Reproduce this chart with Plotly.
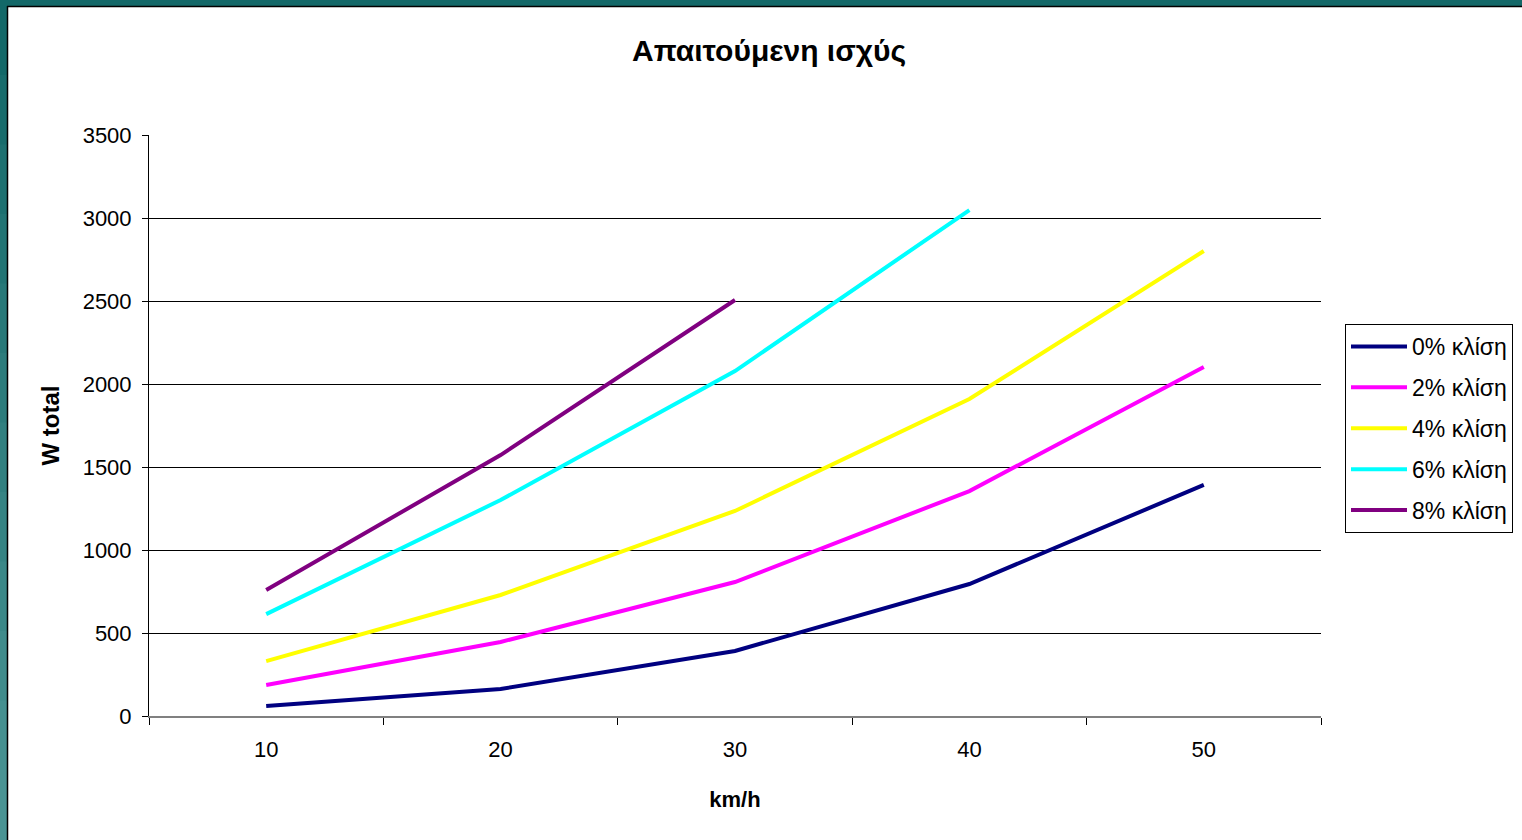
import plotly.graph_objects as go

speeds = ["10", "20", "30", "40", "50"]
series_names = ["0% κλίση", "2% κλίση", "4% κλίση", "6% κλίση", "8% κλίση"]
w0 = [60, 163, 392, 795, 1392]
w2 = [187, 446, 807, 1355, 2102]
w4 = [331, 729, 1235, 1910, 2801]
w6 = [614, 1301, 2078, 3048]
w8 = [759, 1572, 2506]
colors = ["#000080", "#FF00FF", "#FFFF00", "#00FFFF", "#800080"]

W, H = 1522, 840
L, R, T, B = 149, 1321, 135, 716

fig = go.Figure()
for i, (name, vals, c) in enumerate(zip(series_names, [w0, w2, w4, w6, w8], colors)):
    fig.add_trace(go.Scatter(x=speeds[:len(vals)], y=vals, name=name, mode="lines", legendgroup=f"g{i}",
                             line=dict(color=c, width=4)))

def px(x):
    return (x - L) / (R - L)

def py(y):
    return (B - y) / (B - T)

shapes = []
shapes.append(dict(type="rect", xref="paper", yref="paper", x0=px(0), x1=px(W), y0=py(0), y1=py(6),
                   fillcolor="#136868", line=dict(width=0), layer="above"))
n = 12
for i in range(n):
    t = i / (n - 1)
    r = int(0x13 + (0x4a - 0x13) * t)
    g = int(0x68 + (0x94 - 0x68) * t)
    b = int(0x68 + (0x94 - 0x68) * t)
    y0 = 6 + (H - 6) * i / n
    y1 = 6 + (H - 6) * (i + 1) / n
    shapes.append(dict(type="rect", xref="paper", yref="paper", x0=px(0), x1=px(7), y0=py(y1), y1=py(y0 - 0.5),
                       fillcolor=f"rgb({r},{g},{b})", line=dict(width=0), layer="above"))
shapes.append(dict(type="line", xref="paper", yref="paper", x0=px(7.5), x1=px(7.5), y0=py(H), y1=py(6),
                   line=dict(color="black", width=1.5), layer="above"))
shapes.append(dict(type="line", xref="paper", yref="paper", x0=px(7), x1=px(W), y0=py(6.5), y1=py(6.5),
                   line=dict(color="black", width=1.5), layer="above"))

fig.update_layout(
    width=W, height=H,
    margin=dict(l=L, r=W - R, t=T, b=H - B, autoexpand=False),
    paper_bgcolor="white", plot_bgcolor="white",
    font=dict(family="Liberation Sans, Arial", size=22, color="black"),
    title=dict(text="<b>Απαιτούμενη ισχύς</b>", x=(769) / W, xanchor="center", y=1 - 50 / H, yanchor="middle",
               font=dict(size=30)),
    showlegend=True,
    legend=dict(x=px(1345), y=py(324), xanchor="left", yanchor="top", bordercolor="black", borderwidth=1,
                bgcolor="white", font=dict(size=23), tracegroupgap=8, itemwidth=56,
                traceorder="grouped"),
    shapes=shapes,
    xaxis=dict(type="category", range=[-0.5, 4.5], tickson="boundaries", ticks="outside", ticklen=7,
               tickcolor="black", showline=True, linecolor="#808080", linewidth=1.5, showgrid=False,
               ticklabelstandoff=13,
               title=dict(text="<b>km/h</b>", standoff=30, font=dict(size=22)), tickfont=dict(size=22)),
    yaxis=dict(range=[0, 3500], dtick=500, ticks="outside", ticklen=6, tickcolor="black", showline=True,
               linecolor="black", linewidth=1, showgrid=True, gridcolor="black", gridwidth=1,
               ticklabelstandoff=6,
               zeroline=False, title=dict(text="<b>W total</b>", standoff=16, font=dict(size=24)),
               tickfont=dict(size=22)),
)

fig.write_html("out.html", post_script="document.body.style.margin='0';",
               config={"displayModeBar": False})
